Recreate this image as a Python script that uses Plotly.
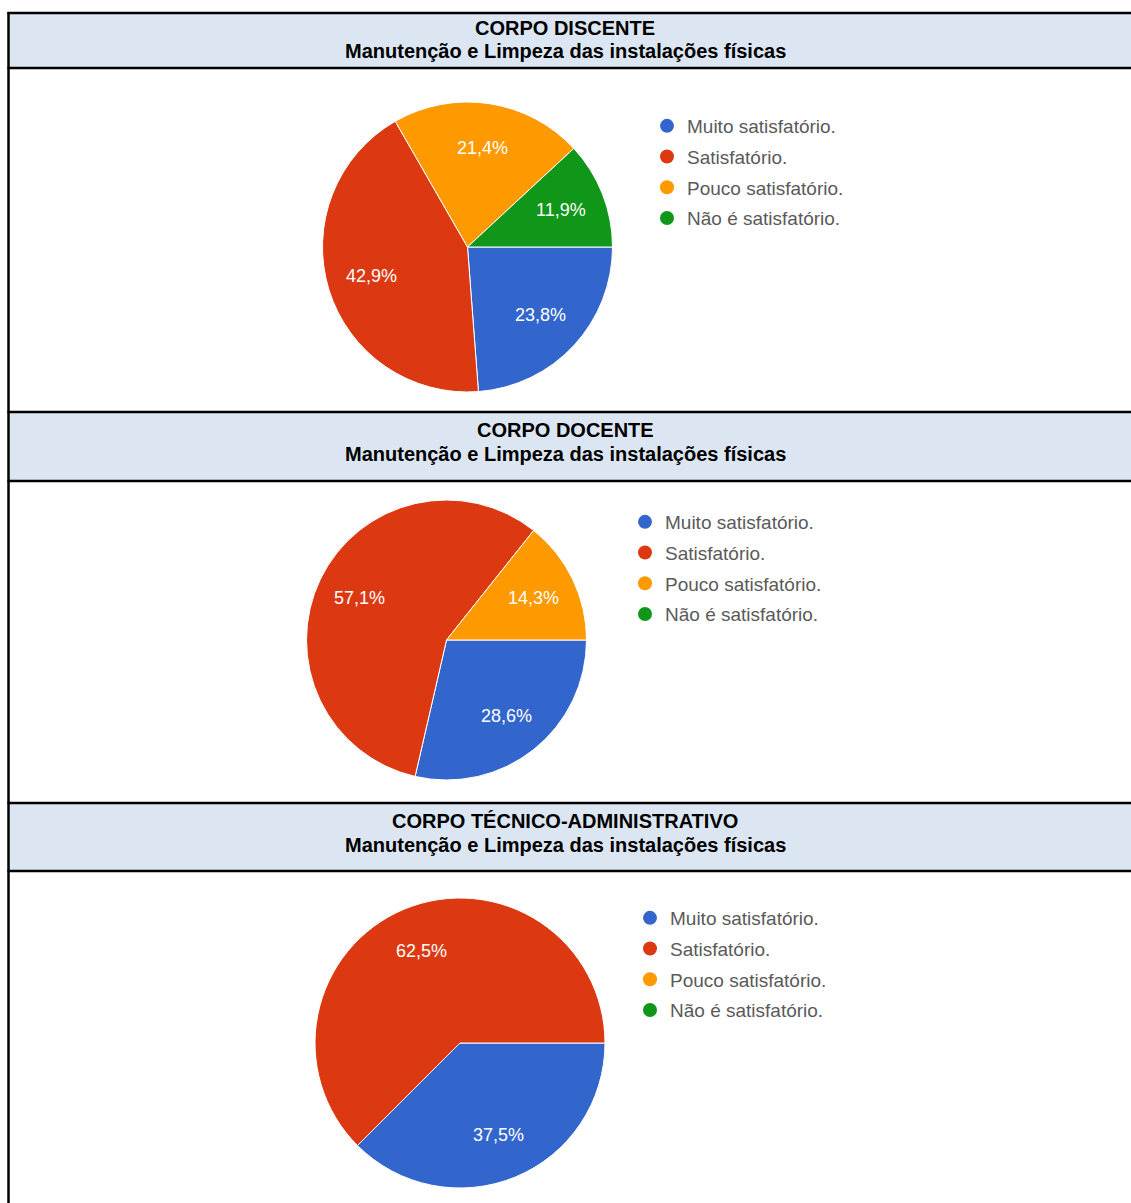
import math
import plotly.graph_objects as go

W, H = 1131, 1203

# Categories and palette shared by the three pies
categorias = ["Muito satisfatório.", "Satisfatório.", "Pouco satisfatório.", "Não é satisfatório."]
cores = ["#3366CC", "#DC3912", "#FF9900", "#109618"]

# Section titles
titulos = ["CORPO DISCENTE", "CORPO DOCENTE", "CORPO TÉCNICO-ADMINISTRATIVO"]
subtitulo = "Manutenção e Limpeza das instalações físicas"

# Percentages per group (same order as categorias)
discente = [23.8, 42.9, 21.4, 11.9]
docente = [28.6, 57.1, 14.3, 0.0]
tecnico = [37.5, 62.5, 0.0, 0.0]
series = [discente, docente, tecnico]

FONT = "Arial, Liberation Sans, sans-serif"
START_DEG = 90        # first slice starts at 3 o'clock, clockwise
LABEL_FRAC = 0.69     # slice labels sit at this fraction of the radius


def fx(x):
    return x / W


def fy(y):
    return 1 - y / H


# Layout of each table section (pixels): header band, pie center/radius, legend anchor
headers = [(13, 68), (412, 481), (803, 871)]
title_rows = [(28, 51), (430, 454), (821, 845)]
pies = [(467.5, 247, 145), (446.5, 640, 140), (460, 1043, 145)]
legend_pos = [(647, 107), (625, 503), (630, 899)]

fig = go.Figure()
annotations = []

for i, vals in enumerate(series):
    labs = [c for c, v in zip(categorias, vals) if v > 0]
    vv = [v for v in vals if v > 0]
    cc = [k for k, v in zip(cores, vals) if v > 0]
    cx, cy, r = pies[i]
    fig.add_trace(go.Pie(
        labels=labs, values=vv, sort=False, direction="clockwise", rotation=START_DEG,
        marker=dict(colors=cc, line=dict(color="white", width=1)),
        textinfo="none",
        domain=dict(x=[fx(cx - r), fx(cx + r)], y=[fy(cy + r), fy(cy - r)]),
        showlegend=False, hoverinfo="skip",
    ))

    # percentage labels along each slice's bisector
    total = sum(vv)
    acc = 0.0
    for v in vv:
        mid = math.radians(START_DEG + 360 * (acc + v / 2) / total)
        acc += v
        lx = cx + LABEL_FRAC * r * math.sin(mid)
        ly = cy - LABEL_FRAC * r * math.cos(mid)
        annotations.append(dict(
            text=f"{v:.1f}%".replace(".", ","), xref="paper", yref="paper",
            x=fx(lx), y=fy(ly), xanchor="center", yanchor="middle", showarrow=False,
            font=dict(family=FONT, size=18, color="white"),
        ))

    leg = "legend" if i == 0 else f"legend{i + 1}"
    for c, k in zip(categorias, cores):
        fig.add_trace(go.Scatter(
            x=[None], y=[None], mode="markers", name=c,
            marker=dict(color=k, size=14, symbol="circle"),
            legend=leg, legendgroup=f"{i}-{c}", showlegend=True, hoverinfo="skip",
        ))

legend_style = dict(
    xanchor="left", yanchor="top", bgcolor="rgba(0,0,0,0)",
    font=dict(family=FONT, size=19, color="#5a5a5a"),
    tracegroupgap=3, itemclick=False, itemdoubleclick=False,
)
lay = {}
for i, (lx, ly) in enumerate(legend_pos):
    key = "legend" if i == 0 else f"legend{i + 1}"
    lay[key] = dict(x=fx(lx), y=fy(ly), **legend_style)

shapes = []
for (t, b) in headers:
    shapes.append(dict(type="rect", xref="paper", yref="paper",
                       x0=fx(8.5), x1=fx(W + 5), y0=fy(b), y1=fy(t),
                       fillcolor="#DCE6F2", line=dict(width=0), layer="below"))
for (t, b) in headers:
    for yy in (t, b):
        shapes.append(dict(type="line", xref="paper", yref="paper",
                           x0=fx(7.5), x1=fx(W + 5), y0=fy(yy), y1=fy(yy),
                           line=dict(color="black", width=2.5)))
shapes.append(dict(type="line", xref="paper", yref="paper",
                   x0=fx(8.5), x1=fx(8.5), y0=fy(H + 5), y1=fy(12),
                   line=dict(color="black", width=2.5)))

for titulo, (y1, y2) in zip(titulos, title_rows):
    for txt, yy in ((titulo, y1), (subtitulo, y2)):
        annotations.append(dict(
            text=f"<b>{txt}</b>", xref="paper", yref="paper",
            x=fx(565), y=fy(yy), xanchor="center", yanchor="middle", showarrow=False,
            font=dict(family=FONT, size=20, color="black"),
        ))

fig.update_layout(
    width=W, height=H, margin=dict(l=0, r=0, t=0, b=0),
    paper_bgcolor="white", plot_bgcolor="white",
    xaxis=dict(visible=False), yaxis=dict(visible=False),
    shapes=shapes, annotations=annotations, **lay,
)

fig.write_html("out.html")
